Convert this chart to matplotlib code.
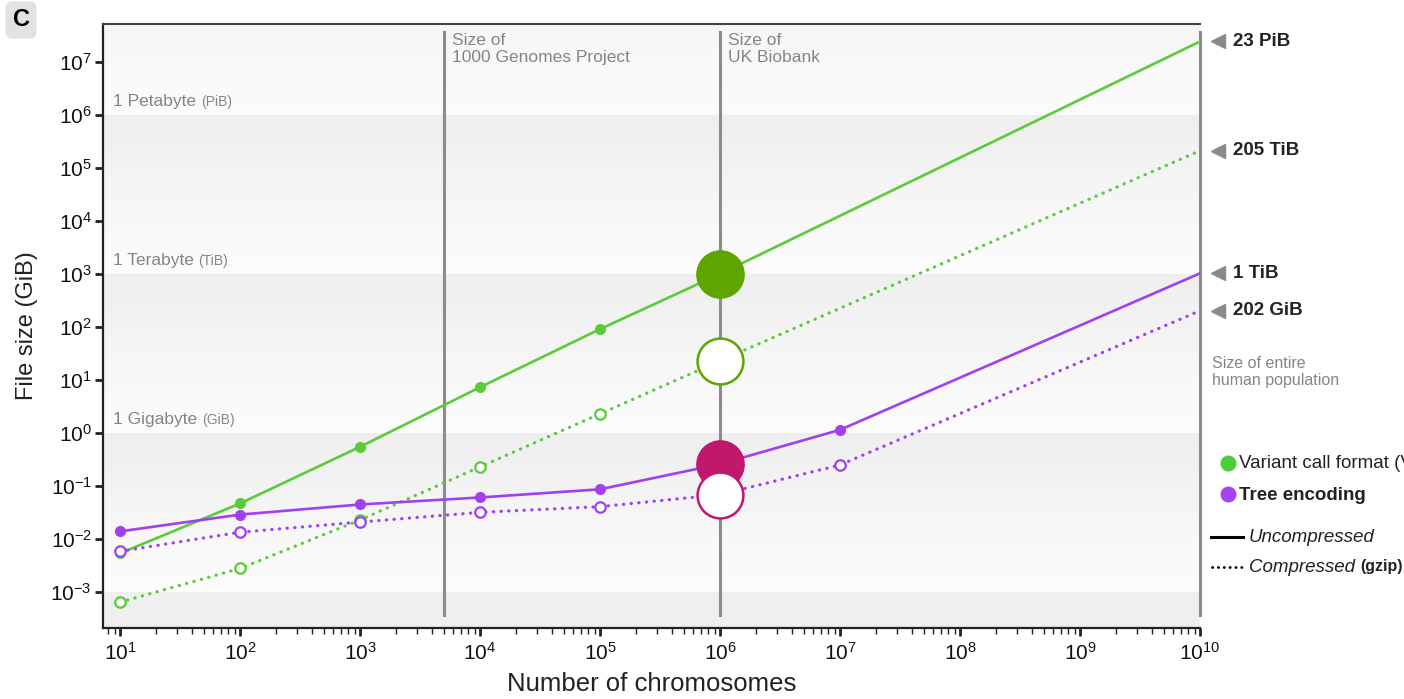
import numpy as np
import matplotlib
matplotlib.use("Agg")
import matplotlib.pyplot as plt
from matplotlib.colors import to_rgb

plt.rcParams['font.family'] = ['Liberation Sans', 'DejaVu Sans']
plt.rcParams['mathtext.fontset'] = 'custom'
plt.rcParams['mathtext.rm'] = 'Liberation Sans'
plt.rcParams['mathtext.it'] = 'Liberation Sans:italic'
plt.rcParams['mathtext.bf'] = 'Liberation Sans:bold'

# ---------------- data ----------------
n_vcf = [1e1, 1e2, 1e3, 1e4, 1e5, 1e6, 1e10]
vcf_uncompressed = [0.0054, 0.047, 0.55, 7.3, 91, 1000, 2.4e7]
vcf_compressed = [0.00065, 0.0028, 0.023, 0.23, 2.3, 23, 2.1e5]

n_tree = [1e1, 1e2, 1e3, 1e4, 1e5, 1e6, 1e7, 1e10]
tree_uncompressed = [0.014, 0.029, 0.045, 0.061, 0.087, 0.26, 1.15, 1024]
tree_compressed = [0.0059, 0.0135, 0.021, 0.032, 0.041, 0.069, 0.25, 202]

vcf_small_marker_idx = [0, 1, 2, 3, 4]
tree_small_marker_idx = [0, 1, 2, 3, 4, 6]
highlight_n = 1e6

ref_lines_x = [5008, 1e6, 1e10]
ref_lines_labels = ["Size of\n1000 Genomes Project", "Size of\nUK Biobank", None]

band_edges = [1e-3, 1e0, 1e3, 1e6]
band_labels = [("1 Gigabyte ", "(GiB)"), ("1 Terabyte ", "(TiB)"), ("1 Petabyte ", "(PiB)")]

end_labels = ["23 PiB", "205 TiB", "1 TiB", "202 GiB"]
end_values = [vcf_uncompressed[-1], vcf_compressed[-1], tree_uncompressed[-1], tree_compressed[-1]]

# ---------------- style ----------------
GREEN = '#5acb3a'
PURPLE = '#a040ee'
DKGREEN = '#5ea500'
CRIMSON = '#c2186b'
GREYLINE = '#8c8c8c'
GREYTXT = '#858585'

W, H = 1404, 699
fig = plt.figure(figsize=(W / 100, H / 100), dpi=100)
ax_l, ax_r, ax_t, ax_b = 103, 1200, 24, 628
ax = fig.add_axes([ax_l / W, 1 - ax_b / H, (ax_r - ax_l) / W, (ax_b - ax_t) / H])
ax.set_xscale('log')
ax.set_yscale('log')
ymin, ymax = 10 ** -3.675, 10 ** 7.71
ax.set_xlim(10 ** 0.858, 1e10)
ax.set_ylim(ymin, ymax)

# background bands with gradient
def grad_band(lo, hi, c_top, c_bot, steps=40):
    ct, cb = np.array(to_rgb(c_top)), np.array(to_rgb(c_bot))
    edges = np.logspace(np.log10(lo), np.log10(hi), steps + 1)
    for i in range(steps):
        f = (i + 0.5) / steps  # 0 bottom, 1 top
        col = cb + (ct - cb) * f
        ax.axhspan(edges[i], edges[i + 1], color=col, lw=0, zorder=0)

ax.axhspan(ymin, band_edges[0], color='#efefef', lw=0, zorder=0)
for lo, hi in zip(band_edges[:-1], band_edges[1:]):
    grad_band(lo, hi, '#eeeeee', '#fcfcfc')
grad_band(band_edges[-1], ymax, '#f6f6f6', '#fbfbfb')

# reference vertical lines
for xv, lab in zip(ref_lines_x, ref_lines_labels):
    ax.axvline(xv, ymin=0.022, ymax=0.987, color=GREYLINE, lw=2.2, zorder=1, clip_on=False)
    if lab:
        ax.annotate(lab, xy=(xv, 0.985), xycoords=ax.get_xaxis_transform(),
                    xytext=(6, 0), textcoords='offset points', ha='left', va='top',
                    fontsize=12.5, color=GREYTXT, linespacing=1.15)

# band labels
fig.canvas.draw()
renderer = fig.canvas.get_renderer()
for edge, (main, unit) in zip([1e0, 1e3, 1e6], band_labels):
    t = ax.annotate(main, xy=(10 ** 0.94, edge), xycoords='data', xytext=(0, 4),
                    textcoords='offset points', ha='left', va='bottom', fontsize=12.5, color=GREYTXT)
    bb = t.get_window_extent(renderer)
    ax.annotate(unit, xy=(bb.x1, bb.y0), xycoords='figure pixels', xytext=(0, 0),
                textcoords='offset points', ha='left', va='bottom', fontsize=10, color=GREYTXT)

# lines
dot = (0, (0.1, 2.3))
ax.plot(n_vcf, vcf_uncompressed, color=GREEN, lw=1.9, zorder=3,
        marker='o', ms=7, mfc=GREEN, mec=GREEN, markevery=vcf_small_marker_idx)
ax.plot(n_vcf, vcf_compressed, color=GREEN, lw=2.3, ls=dot, dash_capstyle='round', zorder=3,
        marker='o', ms=7.5, mfc='white', mec=GREEN, mew=1.6, markevery=vcf_small_marker_idx)
ax.plot(n_tree, tree_uncompressed, color=PURPLE, lw=1.9, zorder=4,
        marker='o', ms=7, mfc=PURPLE, mec=PURPLE, markevery=tree_small_marker_idx)
ax.plot(n_tree, tree_compressed, color=PURPLE, lw=2.3, ls=dot, dash_capstyle='round', zorder=4,
        marker='o', ms=7.5, mfc='white', mec=PURPLE, mew=1.6, markevery=tree_small_marker_idx)

# highlight markers at UK Biobank size
i_v = n_vcf.index(highlight_n)
i_t = n_tree.index(highlight_n)
ax.plot([highlight_n], [vcf_uncompressed[i_v]], 'o', ms=34, mfc=DKGREEN, mec=DKGREEN, zorder=6)
ax.plot([highlight_n], [vcf_compressed[i_v]], 'o', ms=33, mfc='white', mec=DKGREEN, mew=1.8, zorder=6)
ax.plot([highlight_n], [tree_uncompressed[i_t]], 'o', ms=34, mfc=CRIMSON, mec=CRIMSON, zorder=6)
ax.plot([highlight_n], [tree_compressed[i_t]], 'o', ms=33, mfc='white', mec=CRIMSON, mew=1.8, zorder=7)

# right-hand annotations
trans = ax.get_yaxis_transform()
for lab, val in zip(end_labels, end_values):
    ax.plot([1.0165], [val], marker='<', ms=9.5, color='#8a8a8a', transform=trans, clip_on=False)
    ax.text(1.0300, val, lab, transform=trans, ha='left', va='center', fontsize=13.5,
            fontweight='bold', color='#222222', clip_on=False)
ax.text(1.0105, 0.424, "Size of entire\nhuman population", transform=ax.transAxes,
        ha='left', va='center', fontsize=11.5, color=GREYTXT, linespacing=1.2)

# legend (manual)
def fx(px):
    return px / W
def fy(py):
    return 1 - py / H

fig.lines.append(plt.Line2D([fx(1228)], [fy(463)], marker='o', ms=10.5, color='#4ccd3a',
                            transform=fig.transFigure))
fig.text(fx(1239), fy(464), "Variant call format (VCF)", ha='left', va='center', fontsize=13.5,
         color='#222222')
fig.lines.append(plt.Line2D([fx(1228)], [fy(494)], marker='o', ms=10.5, color='#a544f0',
                            transform=fig.transFigure))
fig.text(fx(1239), fy(495), "Tree encoding", ha='left', va='center', fontsize=13.5,
         fontweight='bold', color='#222222')
fig.lines.append(plt.Line2D([fx(1211), fx(1243)], [fy(537), fy(537)], color='black', lw=2.2,
                            transform=fig.transFigure))
fig.text(fx(1249), fy(537), "Uncompressed", ha='left', va='center', fontsize=13.5,
         style='italic', color='#222222')
fig.lines.append(plt.Line2D([fx(1212), fx(1242)], [fy(567), fy(567)], color='black', lw=2.0,
                            ls=(0, (0.1, 2.0)), dash_capstyle='round', transform=fig.transFigure))
t = fig.text(fx(1249), fy(567), "Compressed ", ha='left', va='center', fontsize=13.5,
             style='italic', color='#222222')
bb = t.get_window_extent(renderer)
fig.text(bb.x1 / W, fy(567), "(gzip)", ha='left', va='center', fontsize=11.5,
         fontweight='bold', color='#222222')

# axes styling
ax.spines['right'].set_visible(False)
ax.spines['top'].set_color('#444444')
ax.spines['top'].set_linewidth(1.5)
for s in ['left', 'bottom']:
    ax.spines[s].set_linewidth(1.6)
    ax.spines[s].set_color('#222222')

ax.set_xticks([10.0 ** k for k in range(1, 11)])
ax.set_yticks([10.0 ** k for k in range(-3, 8)])
ax.yaxis.set_minor_locator(matplotlib.ticker.NullLocator())
ax.xaxis.set_minor_locator(matplotlib.ticker.LogLocator(base=10, subs=np.arange(2, 10), numticks=20))
ax.tick_params(axis='both', which='major', direction='out', length=6, width=2,
               labelsize=15, color='#222222', labelcolor='#111111', pad=4)
ax.tick_params(axis='y', which='major', pad=2)
ax.tick_params(axis='x', which='minor', direction='out', length=4, width=1, color='#222222')

ax.set_xlabel("Number of chromosomes", fontsize=18.5, color='#222222', labelpad=6)
ax.set_ylabel("File size (GiB)", fontsize=17, color='#222222', labelpad=9)

# panel label
fig.text(fx(21), fy(20), "C", ha='center', va='center', fontsize=17, fontweight='bold', color='black',
         bbox=dict(boxstyle='round,pad=0.3,rounding_size=0.3', fc='#e2e2e2', ec='none'))

fig.savefig('out.png', dpi=100)
